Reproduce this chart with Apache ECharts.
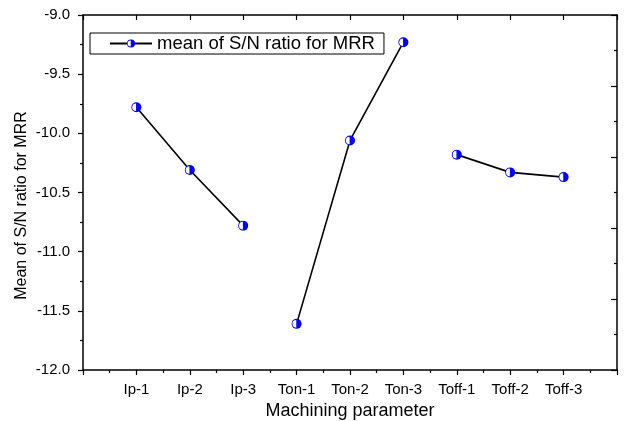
<!DOCTYPE html>
<html>
<head>
<meta charset="utf-8">
<script src="https://cdn.jsdelivr.net/npm/echarts@6/dist/echarts.min.js"></script>
<style>
  html, body { margin: 0; padding: 0; background: #fff; }
  #chart { width: 629px; height: 421px; }
</style>
</head>
<body>
<div id="chart"></div>
<script>
// Machining parameter levels, in plotting order
const categories = ['Ip-1', 'Ip-2', 'Ip-3', 'Ton-1', 'Ton-2', 'Ton-3', 'Toff-1', 'Toff-2', 'Toff-3'];
// Mean S/N ratio (dB) for MRR at each level
const snMeans = [-9.78, -10.31, -10.78, -11.61, -10.06, -9.23, -10.18, -10.33, -10.37];
// Levels that belong to the same parameter are joined by a line
const groupSizes = [3, 3, 3];
const seriesName = 'mean of S/N ratio for MRR';
const xTitle = 'Machining parameter';
const yTitle = 'Mean of S/N ratio for MRR';

// Half-filled circle marker (left half white, right half blue)
const markerSvg =
  '<svg xmlns="http://www.w3.org/2000/svg" width="22" height="22" viewBox="0 0 22 22">' +
  '<circle cx="11" cy="11" r="10" fill="#0000ff"/>' +
  '<path d="M10.3 3.4 A7.6 7.6 0 0 0 10.3 18.6 Z" fill="#ffffff"/>' +
  '</svg>';
const marker = 'image://data:image/svg+xml;charset=utf-8,' + encodeURIComponent(markerSvg);

// Build [x, y] pairs with a gap between parameter groups
const points = [];
let idx = 0;
groupSizes.forEach((n, g) => {
  for (let k = 0; k < n; k++, idx++) points.push([idx + 1, snMeans[idx]]);
  if (g < groupSizes.length - 1) points.push([idx + 0.5, '-']);
});

const font = 'Arial, "Liberation Sans", sans-serif';
const chart = echarts.init(document.getElementById('chart'), null, { renderer: 'canvas' });

const frameLine = { color: '#000', width: 1.5 };
const tickLine = { color: '#000', width: 1.2 };

chart.setOption({
  animation: false,
  backgroundColor: '#ffffff',
  grid: {
    left: 83, right: 12, top: 15, bottom: 51,
    containLabel: false, outerBoundsMode: 'none'
  },
  legend: {
    left: 90, top: 33,
    padding: [1, 9, 1, 19],
    borderColor: '#000', borderWidth: 1, borderRadius: 0,
    itemWidth: 42, itemHeight: 11, itemGap: 0,
    textStyle: { fontFamily: font, fontSize: 18.5, color: '#000', padding: [0, 0, 0, 0] },
    data: [{ name: seriesName }]
  },
  xAxis: [{
    type: 'value', min: 0, max: 10, interval: 1,
    name: xTitle, nameLocation: 'middle', nameGap: 32, nameMoveOverlap: false,
    nameTextStyle: { fontFamily: font, fontSize: 18, color: '#000' },
    axisLine: { onZero: false, lineStyle: frameLine },
    axisTick: { inside: false, length: 5, lineStyle: tickLine },
    minorTick: { show: true, splitNumber: 2, length: 3, lineStyle: tickLine },
    splitLine: { show: false },
    axisLabel: {
      margin: 12, fontFamily: font, fontSize: 15, color: '#000',
      formatter: v => categories[v - 1] || ''
    }
  }, {
    type: 'value', min: 0, max: 10, interval: 1, position: 'top',
    axisLine: { show: true, onZero: false, lineStyle: frameLine },
    axisTick: { show: true, inside: true, length: 5, lineStyle: tickLine },
    axisLabel: { show: false },
    splitLine: { show: false }
  }],
  yAxis: [{
    type: 'value', min: -12, max: -9, interval: 0.5,
    name: yTitle, nameLocation: 'middle', nameGap: 53, nameRotate: 90, nameMoveOverlap: false,
    nameTextStyle: { fontFamily: font, fontSize: 16, color: '#000', padding: [0, 0, 0, -26] },
    axisLine: { show: true, onZero: false, lineStyle: frameLine },
    axisTick: { inside: false, length: 5, lineStyle: tickLine },
    minorTick: { show: true, splitNumber: 2, length: 3, lineStyle: tickLine },
    splitLine: { show: false },
    axisLabel: {
      margin: 13, fontFamily: font, fontSize: 15, color: '#000',
      formatter: v => v.toFixed(1)
    }
  }, {
    type: 'value', min: 0, max: 5, interval: 1, position: 'right',
    axisLine: { show: true, onZero: false, lineStyle: frameLine },
    axisTick: { show: true, inside: true, length: 6, lineStyle: tickLine },
    minorTick: { show: true, splitNumber: 2, length: 3, lineStyle: tickLine },
    axisLabel: { show: false },
    splitLine: { show: false }
  }],
  series: [{
    name: seriesName,
    type: 'line',
    xAxisIndex: 0, yAxisIndex: 0,
    data: points,
    connectNulls: false,
    symbol: marker,
    symbolSize: 11,
    showAllSymbol: true,
    lineStyle: { color: '#000', width: 1.6 },
    itemStyle: { color: '#0000ff' },
    z: 3
  }]
});
</script>
</body>
</html>
